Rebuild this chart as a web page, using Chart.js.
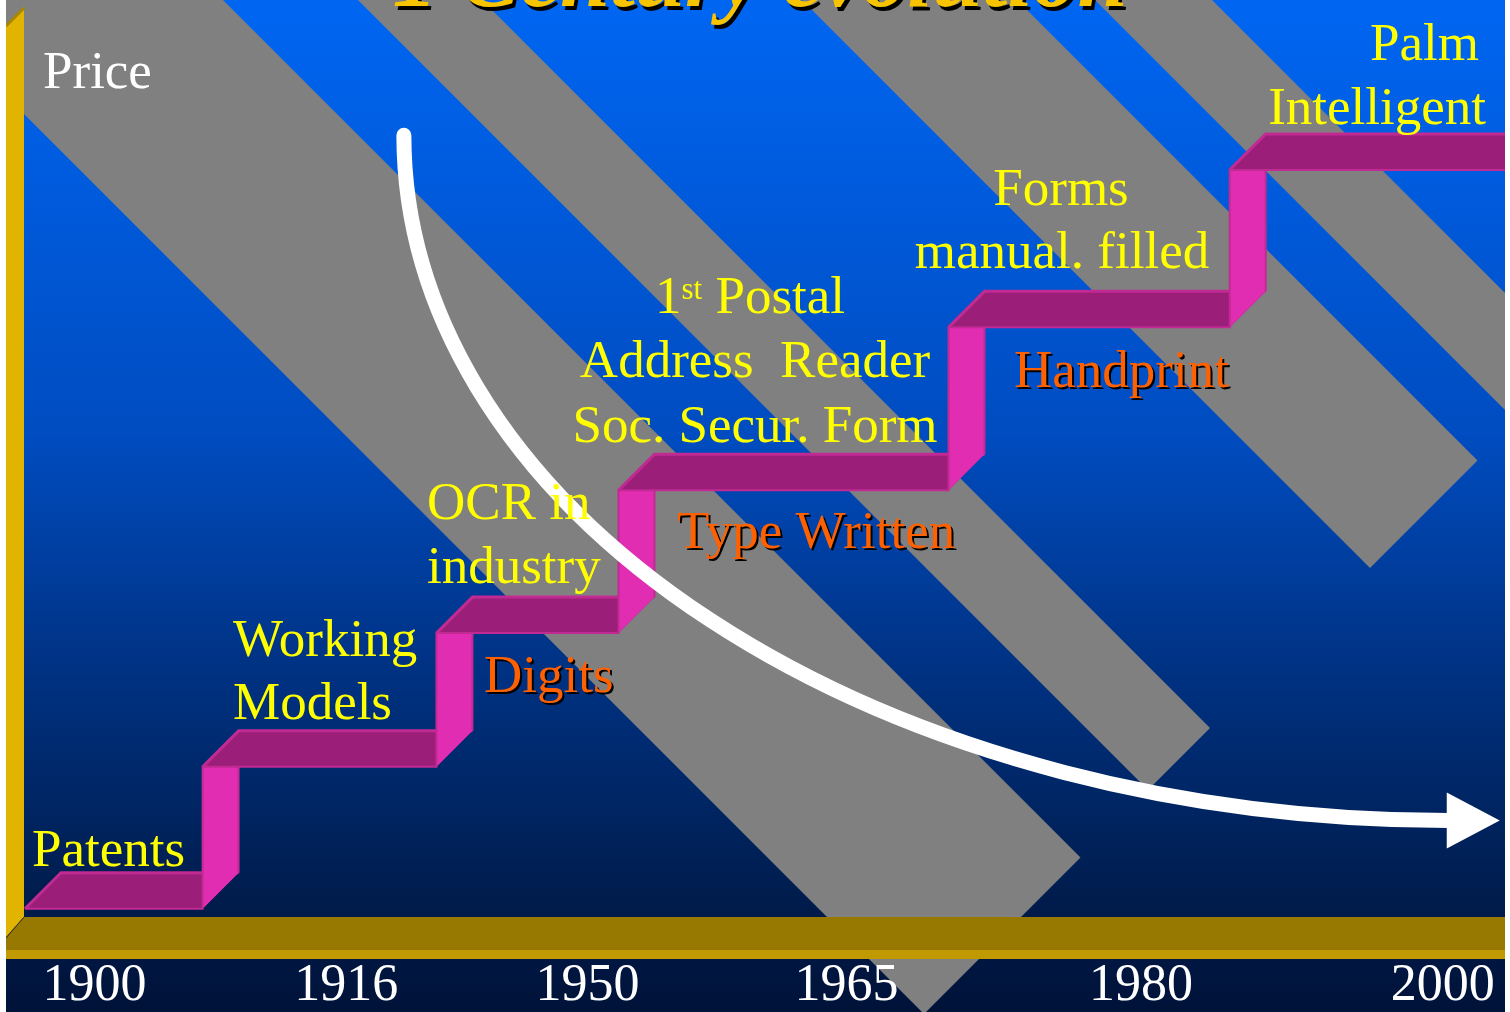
<!DOCTYPE html>
<html>
<head>
<meta charset="utf-8">
<title>1 Century evolution</title>
<script src="https://cdn.jsdelivr.net/npm/chart.js@4.4.1/dist/chart.umd.min.js"></script>
<style>
  html, body { margin: 0; padding: 0; background: #fff; }
  #wrap { width: 1510px; height: 1012px; }
</style>
</head>
<body>
<div id="wrap"><canvas id="chart" width="1510" height="1012"></canvas></div>
<script>
// x = position along the timeline (0..100 across the floor), y = stair height (0..100)
const yearLabels = ['1900', '1916', '1950', '1965', '1980', '2000'];
const yearTicks  = [4.7, 21.7, 38.0, 55.5, 75.4, 95.8];
const stepStart  = [0, 12.0, 27.8, 40.1, 62.4, 81.4, 100];
const stepLevel  = [0.9, 16.5, 31.2, 46.9, 64.8, 82.1, 82.1];

// falling price curve: start of the curve and start of the arrow head
const priceFrom = { x: 25.6, y: 85.9 };
const priceTo   = { x: 96.2, y: 10.6 };

// text on the slide
const yellowText = [
  { text: 'Patents', x: 32, y: 866, align: 'left' },
  { text: 'Working', x: 233, y: 656, align: 'left' },
  { text: 'Models', x: 233, y: 719, align: 'left' },
  { text: 'OCR in', x: 427, y: 519, align: 'left' },
  { text: 'industry', x: 427, y: 583, align: 'left' },
  { text: 'Address  Reader', x: 755, y: 377, align: 'center' },
  { text: 'Soc. Secur. Form', x: 755, y: 442, align: 'center' },
  { text: 'Forms', x: 1061, y: 205, align: 'center' },
  { text: 'manual. filled', x: 1062, y: 268, align: 'center' },
  { text: 'Palm', x: 1479, y: 60, align: 'right' },
  { text: 'Intelligent', x: 1486, y: 124, align: 'right' }
];
const orangeText = [
  { text: 'Digits', x: 484, y: 692 },
  { text: 'Type Written', x: 677, y: 548 },
  { text: 'Handprint', x: 1014, y: 387 }
];

const SERIF = '"Liberation Serif", "Times New Roman", serif';
const slide = { left: 6, right: 1505, top: 0, bottom: 1012 };
const stripes = [[-90, 223], [358, 482], [802, 1017], [1095, 1212]]; // x - y bounds of each band
const stripeEnd = 1938;   // x + y of the band ends
const depth = 36;         // 3D depth of the stair ribbon

function clipSlide(ctx) {
  ctx.beginPath();
  ctx.rect(slide.left, slide.top, slide.right - slide.left, slide.bottom - slide.top);
  ctx.clip();
}

const slidePlugin = {
  id: 'slide',
  beforeDraw(chart) {
    const ctx = chart.ctx;
    ctx.save();
    ctx.fillStyle = '#ffffff';
    ctx.fillRect(0, 0, chart.width, chart.height);
    clipSlide(ctx);

    const g = ctx.createLinearGradient(0, 0, 0, 1012);
    g.addColorStop(0, '#0066f2');
    g.addColorStop(0.43, '#004cc0');
    g.addColorStop(0.64, '#003488');
    g.addColorStop(0.89, '#001c4c');
    g.addColorStop(1, '#001238');
    ctx.fillStyle = g;
    ctx.fillRect(slide.left, slide.top, slide.right - slide.left, slide.bottom - slide.top);

    // grey diagonal bands
    ctx.fillStyle = '#808080';
    stripes.forEach(([cl, cr]) => {
      ctx.beginPath();
      ctx.moveTo(cl - 300, -300);
      ctx.lineTo(cr - 300, -300);
      ctx.lineTo((stripeEnd + cr) / 2, (stripeEnd - cr) / 2);
      ctx.lineTo((stripeEnd + cl) / 2, (stripeEnd - cl) / 2);
      ctx.closePath();
      ctx.fill();
    });

    // floor
    ctx.fillStyle = '#977800';
    ctx.beginPath();
    ctx.moveTo(24, 917);
    ctx.lineTo(slide.right, 917);
    ctx.lineTo(slide.right, 959);
    ctx.lineTo(6, 959);
    ctx.lineTo(6, 937);
    ctx.closePath();
    ctx.fill();
    ctx.fillStyle = '#c09a00';
    ctx.fillRect(6, 950, slide.right - 6, 9);

    // left wall
    ctx.fillStyle = '#e0b400';
    ctx.beginPath();
    ctx.moveTo(6, 25);
    ctx.lineTo(24, 7);
    ctx.lineTo(24, 917);
    ctx.lineTo(6, 937);
    ctx.closePath();
    ctx.fill();
    ctx.strokeStyle = '#a88600';
    ctx.lineWidth = 3;
    ctx.beginPath();
    ctx.moveTo(6, 26);
    ctx.lineTo(24, 8);
    ctx.stroke();
    ctx.strokeStyle = '#2a2a2a';
    ctx.lineWidth = 1;
    ctx.beginPath();
    ctx.moveTo(24, 917);
    ctx.lineTo(6, 938);
    ctx.stroke();
    ctx.restore();
  },
  beforeDatasetsDraw(chart) {
    const ctx = chart.ctx;
    const pts = chart.getDatasetMeta(0).data;
    ctx.save();
    clipSlide(ctx);
    for (let i = 0; i < pts.length - 1; i++) {
      const a = pts[i], b = pts[i + 1];
      // tread (top face)
      ctx.fillStyle = '#9b1f78';
      ctx.beginPath();
      ctx.moveTo(a.x, a.y);
      ctx.lineTo(b.x, a.y);
      ctx.lineTo(b.x + depth, a.y - depth);
      ctx.lineTo(a.x + depth, a.y - depth);
      ctx.closePath();
      ctx.fill();
      ctx.strokeStyle = '#c12a92';
      ctx.lineWidth = 3;
      ctx.beginPath();
      ctx.moveTo(a.x, a.y);
      ctx.lineTo(a.x + depth, a.y - depth);
      ctx.lineTo(b.x + depth, a.y - depth);
      ctx.stroke();
      // riser (side face)
      if (b.y < a.y - 0.5) {
        ctx.fillStyle = '#e02db2';
        ctx.beginPath();
        ctx.moveTo(b.x, a.y);
        ctx.lineTo(b.x, b.y);
        ctx.lineTo(b.x + depth, b.y - depth);
        ctx.lineTo(b.x + depth, a.y - depth);
        ctx.closePath();
        ctx.fill();
        ctx.strokeStyle = '#c12a92';
        ctx.lineWidth = 2;
        ctx.beginPath();
        ctx.moveTo(b.x + depth, b.y - depth);
        ctx.lineTo(b.x + depth, a.y - depth);
        ctx.stroke();
      }
    }
    ctx.restore();
  },
  afterDatasetsDraw(chart) {
    const ctx = chart.ctx;
    const xs = chart.scales.x, ys = chart.scales.y;
    ctx.save();
    clipSlide(ctx);

    // price arrow
    const x0 = xs.getPixelForValue(priceFrom.x), y0 = ys.getPixelForValue(priceFrom.y);
    const x1 = xs.getPixelForValue(priceTo.x), y1 = ys.getPixelForValue(priceTo.y);
    ctx.strokeStyle = '#ffffff';
    ctx.lineWidth = 15;
    ctx.lineCap = 'round';
    ctx.beginPath();
    ctx.ellipse(x1, y0, x1 - x0, y1 - y0, 0, Math.PI, Math.PI / 2, true);
    ctx.stroke();
    ctx.fillStyle = '#ffffff';
    ctx.beginPath();
    ctx.moveTo(x1 - 2, y1 - 28);
    ctx.lineTo(x1 + 51, y1);
    ctx.lineTo(x1 - 2, y1 + 28);
    ctx.closePath();
    ctx.fill();

    // texts
    ctx.textBaseline = 'alphabetic';
    ctx.font = '53px ' + SERIF;
    ctx.fillStyle = '#ffffff';
    ctx.textAlign = 'left';
    ctx.fillText('Price', 43, 88);

    ctx.fillStyle = '#ffff00';
    yellowText.forEach(t => {
      ctx.textAlign = t.align;
      ctx.fillText(t.text, t.x, t.y);
    });

    // "1st Postal" with superscript
    ctx.textAlign = 'left';
    const big = '53px ' + SERIF, small = '31px ' + SERIF;
    ctx.font = big;
    const w1 = ctx.measureText('1').width, w3 = ctx.measureText(' Postal').width;
    ctx.font = small;
    const w2 = ctx.measureText('st').width;
    let sx = 750 - (w1 + w2 + w3) / 2;
    ctx.font = big; ctx.fillText('1', sx, 313); sx += w1;
    ctx.font = small; ctx.fillText('st', sx, 299); sx += w2;
    ctx.font = big; ctx.fillText(' Postal', sx, 313);

    orangeText.forEach(t => {
      ctx.fillStyle = '#000000';
      ctx.fillText(t.text, t.x + 2, t.y + 2);
      ctx.fillStyle = '#ff6000';
      ctx.fillText(t.text, t.x, t.y);
    });

    // title, mostly above the visible slide
    ctx.font = 'italic bold 90px ' + SERIF;
    ctx.textAlign = 'center';
    ctx.fillStyle = '#000000';
    ctx.fillText('1 Century evolution', 763, 10);
    ctx.fillStyle = '#f8c400';
    ctx.fillText('1 Century evolution', 760, 6);
    ctx.restore();
  }
};

new Chart(document.getElementById('chart'), {
  type: 'line',
  data: {
    datasets: [{
      label: 'OCR evolution',
      data: stepStart.map((x, i) => ({ x: x, y: stepLevel[i] })),
      stepped: 'before',
      borderColor: '#c12a92',
      borderWidth: 2,
      pointRadius: 0,
      fill: false
    }]
  },
  options: {
    responsive: false,
    animation: false,
    devicePixelRatio: 1,
    layout: { padding: { left: 25, right: 5, top: 7, bottom: 1 } },
    plugins: { legend: { display: false }, tooltip: { enabled: false } },
    scales: {
      x: {
        type: 'linear',
        min: 0,
        max: 100,
        grid: { display: false, drawTicks: false },
        border: { display: false },
        afterBuildTicks: axis => { axis.ticks = yearTicks.map(v => ({ value: v })); },
        afterFit: axis => {
          // labels sit in the dark band under the gold floor
          axis.height = 94;
          axis.paddingLeft = 0;
          axis.paddingRight = 0;
        },
        ticks: {
          autoSkip: false,
          maxRotation: 0,
          padding: 43,
          color: '#ffffff',
          font: { family: SERIF, size: 52, lineHeight: 1 },
          callback: (value, index) => yearLabels[index]
        }
      },
      y: {
        type: 'linear',
        min: 0,
        max: 100,
        display: false
      }
    }
  },
  plugins: [slidePlugin]
});
</script>
</body>
</html>
